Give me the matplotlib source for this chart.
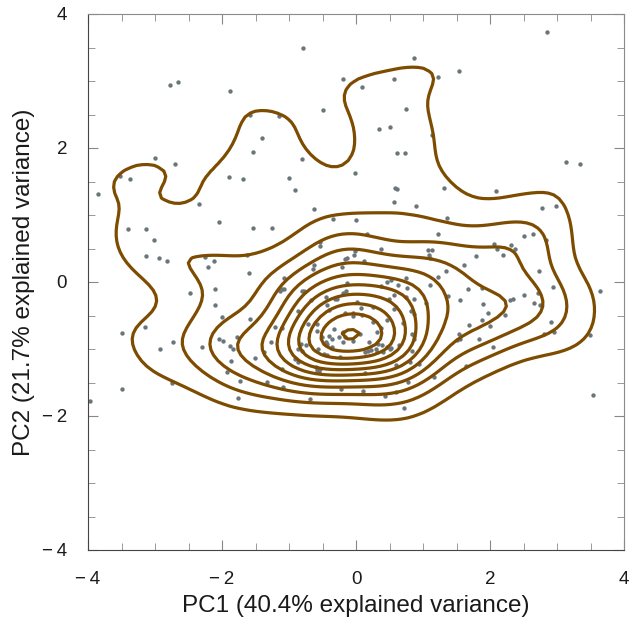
import numpy as np
import matplotlib
matplotlib.use("Agg")
import matplotlib.pyplot as plt
from matplotlib.ticker import MultipleLocator, FuncFormatter

pc1 = [-0.79,-2.78,-2.66,-1.88,-0.19,-0.50,-1.58,-1.15,-1.41,-1.54,-3.00,-2.70,-0.81,-3.52,-3.37,-1.89,-1.69,-1.00,-0.91,-3.85,
       -0.01,2.85,0.87,1.53,1.22,0.56,0.09,0.75,0.34,0.51,1.13,0.61,0.73,3.13,3.34,0.58,0.61,1.31,2.09,-2.34,
       -0.62,-2.04,-3.40,-3.14,-1.53,-1.25,-0.35,0.00,-3.01,-0.54,-0.53,-3.14,-2.94,-2.82,-2.26,-2.12,-2.21,-1.63,-1.59,-0.01,
       -0.03,-0.16,-0.13,-0.63,-0.64,-0.21,-1.08,-2.48,-2.11,-1.10,-1.13,-1.07,-0.81,-0.77,-0.14,-0.15,-0.20,-0.67,-0.45,-0.31,
       -0.28,0.02,0.57,0.90,2.77,2.99,1.36,0.17,1.22,0.37,1.07,1.14,1.09,1.10,0.12,1.61,1.34,1.23,0.75,0.47,
       0.52,0.38,0.63,0.76,1.10,1.67,0.57,0.49,0.74,0.87,1.04,1.38,1.55,2.06,2.10,2.32,2.37,2.51,2.64,2.84,
       1.79,2.20,2.73,1.88,2.94,3.64,2.51,2.71,2.30,2.35,1.89,2.65,2.74,0.07,0.25,0.56,0.82,0.86,-0.04,-0.05,
       0.09,1.88,2.23,1.97,0.25,0.46,0.70,0.37,0.32,1.68,2.00,2.91,2.81,2.96,3.49,3.53,1.53,1.55,1.51,1.83,
       2.04,1.64,1.16,0.78,0.60,0.43,0.71,0.10,-0.23,0.14,0.94,0.81,0.60,0.83,0.06,-0.19,-0.25,-0.17,-0.19,-0.05,
       -0.51,-0.40,-0.36,-0.45,-0.43,-0.36,-0.33,-0.58,-0.57,-0.48,-0.43,-0.24,0.19,0.18,0.14,0.33,0.39,0.64,0.47,0.50,
       0.52,0.23,0.30,0.32,0.40,0.84,0.87,0.86,-1.21,-0.72,-0.58,-1.27,-0.82,-0.74,-1.37,-0.86,-0.81,-1.51,-0.91,-0.87,
       -0.59,-0.58,-0.54,-0.55,-1.10,-1.73,-1.33,-1.09,-0.69,-1.76,-0.86,-0.16,-1.58,-1.10,-0.43,-0.41,-3.49,-3.15,-2.73,-2.93,
       -2.30,-2.04,-1.98,-1.78,-1.88,-1.83,-1.87,-1.93,-2.74,-3.49,-3.97,-2.11,-2.00]
pc2 = [3.50,2.94,2.98,2.85,3.03,2.56,2.49,2.48,2.15,1.94,1.85,1.76,1.84,1.58,1.53,1.56,1.54,1.55,1.38,1.32,
       1.62,3.73,3.35,3.15,3.06,3.03,2.91,2.58,2.29,2.32,2.19,1.92,1.93,1.79,1.76,1.41,1.39,1.41,1.36,1.16,
       1.09,0.89,0.79,0.79,0.81,0.81,0.94,0.93,0.63,0.59,0.53,0.39,0.36,0.32,0.37,0.32,0.22,0.41,0.14,0.47,
       0.40,0.35,0.36,0.25,0.20,0.22,0.06,-0.16,-0.11,-0.10,-0.14,-0.11,-0.14,-0.14,-0.02,-0.14,-0.16,-0.27,-0.23,-0.25,
       -0.25,-0.30,1.19,1.13,1.11,1.14,0.96,0.71,0.71,0.50,0.48,0.48,0.41,0.36,0.32,0.26,0.17,0.07,0.06,0.00,
       0.03,-0.06,-0.04,-0.09,-0.05,-0.11,-0.20,-0.25,-0.23,-0.26,-0.32,-0.21,-0.27,0.57,0.50,0.55,0.50,0.68,0.71,0.62,
       0.39,0.40,0.17,-0.09,-0.07,-0.14,-0.20,-0.17,-0.27,-0.26,-0.33,-0.32,-0.35,-0.39,-0.37,-0.40,-0.43,-0.48,-0.46,-0.51,
       -0.49,-0.56,-0.49,-0.46,-0.59,-0.57,-0.61,-0.68,-0.74,-0.64,-0.65,-0.60,-0.77,-0.75,-0.79,-1.68,-0.78,-0.85,-0.86,-0.85,
       -0.97,-1.26,-1.42,-1.49,-1.64,-1.70,-1.88,-1.63,-1.59,-1.36,-1.23,-1.19,-1.24,-1.03,-0.77,-0.75,-0.82,-0.82,-0.90,-0.88,
       -0.82,-0.81,-0.85,-0.89,-0.93,-0.97,-0.70,-0.73,-1.00,-1.07,-1.09,-1.12,-0.89,-1.03,-1.05,-0.93,-0.94,-0.94,-0.97,-1.00,
       -0.99,-1.01,-1.00,-1.05,-1.04,-0.77,-0.81,-0.85,-0.67,-0.62,-0.62,-0.89,-0.93,-0.94,-1.04,-1.00,-1.03,-1.14,-1.15,-1.20,
       -1.27,-1.32,-1.30,-1.34,-1.30,-1.48,-1.49,-1.56,-1.74,-1.73,-0.43,-0.46,-0.55,-0.68,-0.35,-0.42,-0.76,-0.67,-0.89,-1.00,
       -0.97,-0.85,-0.88,-0.82,-0.95,-1.00,-1.18,-1.35,-1.50,-1.59,-1.77,-0.34,-0.52]

x = np.array(pc1)
y = np.array(pc2)
n = len(x)

def bw_nrd(v):
    q75, q25 = np.percentile(v, [75, 25])
    h = (q75 - q25) / 1.34
    return 4 * 1.06 * min(np.std(v, ddof=1), h) * len(v) ** (-0.2)

hx = bw_nrd(x) / 4
hy = bw_nrd(y) / 4
gx = np.linspace(-4, 4, 100)
gy = np.linspace(-4, 4, 100)
ax_ = (gx[:, None] - x[None, :]) / hx
ay_ = (gy[:, None] - y[None, :]) / hy
kx = np.exp(-0.5 * ax_ ** 2) / np.sqrt(2 * np.pi)
ky = np.exp(-0.5 * ay_ ** 2) / np.sqrt(2 * np.pi)
Z = (ky @ kx.T) / (n * hx * hy)

n_levels = 11
step = Z.max() / (n_levels + 0.08)
levels = step * np.arange(1, n_levels + 1)

plt.rcParams['font.family'] = ['Liberation Sans', 'DejaVu Sans']
fig = plt.figure(figsize=(6.36, 6.20), dpi=100)
ax = fig.add_axes([88/636, 70/620, 536/636, 536/620])

ax.scatter(x, y, s=10, color='#6b767c', linewidths=0, zorder=2)
ax.contour(gx, gy, Z, levels=levels, colors='#7d4c00', linewidths=2.3, zorder=3)

ax.set_xlim(-4, 4)
ax.set_ylim(-4, 4)
ax.xaxis.set_major_locator(MultipleLocator(2))
ax.yaxis.set_major_locator(MultipleLocator(2))
ax.xaxis.set_minor_locator(MultipleLocator(0.5))
ax.yaxis.set_minor_locator(MultipleLocator(0.5))
fmt = FuncFormatter(lambda v, p: ("\u2212\u2009%d" % abs(v)) if v < 0 else "%d" % v)
ax.xaxis.set_major_formatter(fmt)
ax.yaxis.set_major_formatter(fmt)
ax.tick_params(which='both', direction='in', top=True, right=True, color='#888888', labelsize=13.5, labelcolor='#1a1a1a')
ax.tick_params(which='major', length=7, pad=15)
ax.tick_params(which='minor', length=5)
for s in ['top', 'right']:
    ax.spines[s].set_color('#8a8a8a')
for s in ['left', 'bottom']:
    ax.spines[s].set_color('#444444')
ax.set_xlabel('PC1 (40.4% explained variance)', fontsize=17.5, color='#1a1a1a', labelpad=5)
ax.set_ylabel('PC2 (21.7% explained variance)', fontsize=17.5, color='#1a1a1a', labelpad=5)

fig.savefig('out.png', dpi=100)
